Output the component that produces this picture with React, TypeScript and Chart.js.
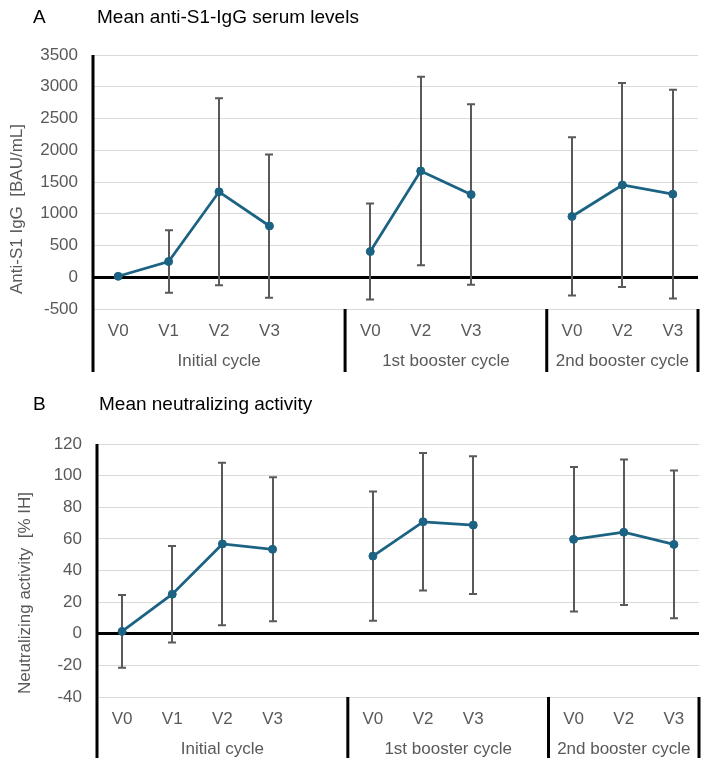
import React, { useEffect, useRef } from 'react';
import { Chart, registerables } from 'chart.js';

Chart.register(...registerables);

const FONT = '"Liberation Sans", Arial, Helvetica, sans-serif';
const TEXT_GRAY = '#595959';
const LINE_BLUE = '#1b6283';

// Visit labels; the empty slots keep the three cycles apart
const visits = ['V0', 'V1', 'V2', 'V3', '', 'V0', 'V2', 'V3', '', 'V0', 'V2', 'V3'];
const cycleNames = ['Initial cycle', '1st booster cycle', '2nd booster cycle'];
const cycleStart = [0, 5, 9];
const cycleEnd = [5, 9, 12];

// Panel A: anti-S1 IgG (BAU/mL), mean and SD
const iggMean = [15, 248, 1346, 807, null, 405, 1674, 1302, null, 957, 1453, 1309];
const iggSd = [20, 494, 1472, 1128, null, 757, 1485, 1422, null, 1246, 1607, 1645];
const iggTicks = { min: -500, max: 3500, step: 500 };

// Panel B: neutralizing activity (% IH), mean and SD
const neutMean = [1.5, 25, 56.8, 53.4, null, 49.1, 70.8, 68.7, null, 59.7, 64.2, 56.5];
const neutSd = [23, 30.5, 51.4, 45.5, null, 40.8, 43.5, 43.5, null, 45.7, 46, 46.7];
const neutTicks = { min: -40, max: 120, step: 20 };

type Geometry = {
  width: number;
  height: number;
  top: number;
  bottom: number;
  left: number;
  right: number;
  titleY: number;
  titleX: number;
  yTitleX: number;
  yTitleY: number;
  tickGap: number;
  groupGap: number;
  axisExt: number;
};

type PanelProps = {
  letter: string;
  title: string;
  yTitle: string;
  means: (number | null)[];
  sds: (number | null)[];
  range: { min: number; max: number; step: number };
  geo: Geometry;
};

function Panel({ letter, title, yTitle, means, sds, range, geo }: PanelProps) {
  const ref = useRef<HTMLCanvasElement>(null);

  useEffect(() => {
    const canvas = ref.current;
    if (!canvas) return;

    const decor = {
      id: 'decor',
      beforeDatasetsDraw(chart: any) {
        const ctx = chart.ctx as CanvasRenderingContext2D;
        const xs = chart.scales.x;
        const ys = chart.scales.y;
        ctx.save();
        ctx.strokeStyle = TEXT_GRAY;
        ctx.lineWidth = 2;
        means.forEach((m, i) => {
          const sd = sds[i];
          if (m == null || sd == null) return;
          const px = Math.round(xs.getPixelForValue(i));
          const hi = ys.getPixelForValue(m + sd);
          const lo = ys.getPixelForValue(m - sd);
          ctx.beginPath();
          ctx.moveTo(px, hi);
          ctx.lineTo(px, lo);
          ctx.moveTo(px - 4, hi);
          ctx.lineTo(px + 4, hi);
          ctx.moveTo(px - 4, lo);
          ctx.lineTo(px + 4, lo);
          ctx.stroke();
        });
        ctx.restore();
      },
      afterDraw(chart: any) {
        const ctx = chart.ctx as CanvasRenderingContext2D;
        const area = chart.chartArea;
        const slot = (area.right - area.left) / visits.length;
        const edge = (i: number) => area.left + slot * i;
        const extBottom = area.bottom + geo.axisExt;

        ctx.save();
        // left axis and cycle separators
        ctx.strokeStyle = '#000';
        ctx.lineWidth = 3;
        ctx.beginPath();
        ctx.moveTo(area.left, area.top);
        ctx.lineTo(area.left, extBottom);
        [cycleStart[1], cycleStart[2], visits.length].forEach((i) => {
          const x = edge(i);
          ctx.moveTo(x, area.bottom);
          ctx.lineTo(x, extBottom);
        });
        ctx.stroke();

        // cycle names
        ctx.fillStyle = TEXT_GRAY;
        ctx.font = `17px ${FONT}`;
        ctx.textAlign = 'center';
        ctx.textBaseline = 'middle';
        cycleNames.forEach((name, g) => {
          const cx = (edge(cycleStart[g]) + edge(cycleEnd[g])) / 2;
          ctx.fillText(name, cx, area.bottom + geo.groupGap);
        });

        // y-axis title
        ctx.save();
        ctx.translate(geo.yTitleX, geo.yTitleY);
        ctx.rotate(-Math.PI / 2);
        ctx.fillText(yTitle, 0, 0);
        ctx.restore();

        // panel letter and heading
        ctx.fillStyle = '#000';
        ctx.font = `19px ${FONT}`;
        ctx.textAlign = 'left';
        ctx.fillText(letter, 33, geo.titleY);
        ctx.fillText(title, geo.titleX, geo.titleY);
        ctx.restore();
      },
    };

    const chart = new Chart(canvas, {
      type: 'line',
      data: {
        labels: visits,
        datasets: [
          {
            data: means as any,
            borderColor: LINE_BLUE,
            backgroundColor: LINE_BLUE,
            borderWidth: 2.75,
            pointRadius: 4,
            pointBorderWidth: 1,
            pointBackgroundColor: LINE_BLUE,
            pointBorderColor: LINE_BLUE,
            spanGaps: false,
            tension: 0,
          },
        ],
      },
      options: {
        animation: false,
        responsive: false,
        devicePixelRatio: 1,
        layout: {
          padding: { top: geo.top, left: 0, right: geo.width - geo.right, bottom: 0 },
        },
        plugins: {
          legend: { display: false },
          tooltip: { enabled: false },
        },
        scales: {
          x: {
            type: 'category',
            offset: true,
            grid: { display: false, drawTicks: false },
            border: { display: false },
            ticks: {
              color: TEXT_GRAY,
              font: { family: FONT, size: 17 },
              padding: geo.tickGap,
              maxRotation: 0,
              autoSkip: false,
            },
            afterFit: (s: any) => {
              s.height = geo.height - geo.bottom;
            },
          },
          y: {
            min: range.min,
            max: range.max,
            grid: {
              drawTicks: false,
              color: (c: any) => (c.tick && c.tick.value === 0 ? '#000' : '#d9d9d9'),
              lineWidth: (c: any) => (c.tick && c.tick.value === 0 ? 3 : 1),
            },
            border: { display: false },
            ticks: {
              stepSize: range.step,
              color: TEXT_GRAY,
              font: { family: FONT, size: 17 },
              padding: 15,
              callback: (v: any) => String(v),
            },
            afterFit: (s: any) => {
              s.width = geo.left;
            },
          },
        },
      },
      plugins: [decor],
    });

    return () => chart.destroy();
  }, []);

  return (
    <canvas
      ref={ref}
      width={geo.width}
      height={geo.height}
      style={{ display: 'block', width: geo.width, height: geo.height }}
    />
  );
}

const geoA: Geometry = {
  width: 708,
  height: 385,
  top: 55,
  bottom: 309,
  left: 93,
  right: 698,
  titleY: 18,
  titleX: 97,
  yTitleX: 17,
  yTitleY: 209,
  tickGap: 12,
  groupGap: 52,
  axisExt: 63,
};

const geoB: Geometry = {
  width: 708,
  height: 382,
  top: 59,
  bottom: 312,
  left: 97,
  right: 699,
  titleY: 20,
  titleX: 99,
  yTitleX: 25,
  yTitleY: 208,
  tickGap: 12,
  groupGap: 52,
  axisExt: 61,
};

export default function App() {
  return (
    <div style={{ position: 'absolute', left: 0, top: 0, width: 708, height: 767, background: '#fff' }}>
      <Panel
        letter="A"
        title="Mean anti-S1-IgG serum levels"
        yTitle="Anti-S1 IgG  [BAU/mL]"
        means={iggMean}
        sds={iggSd}
        range={iggTicks}
        geo={geoA}
      />
      <Panel
        letter="B"
        title="Mean neutralizing activity"
        yTitle="Neutralizing activity  [% IH]"
        means={neutMean}
        sds={neutSd}
        range={neutTicks}
        geo={geoB}
      />
    </div>
  );
}
